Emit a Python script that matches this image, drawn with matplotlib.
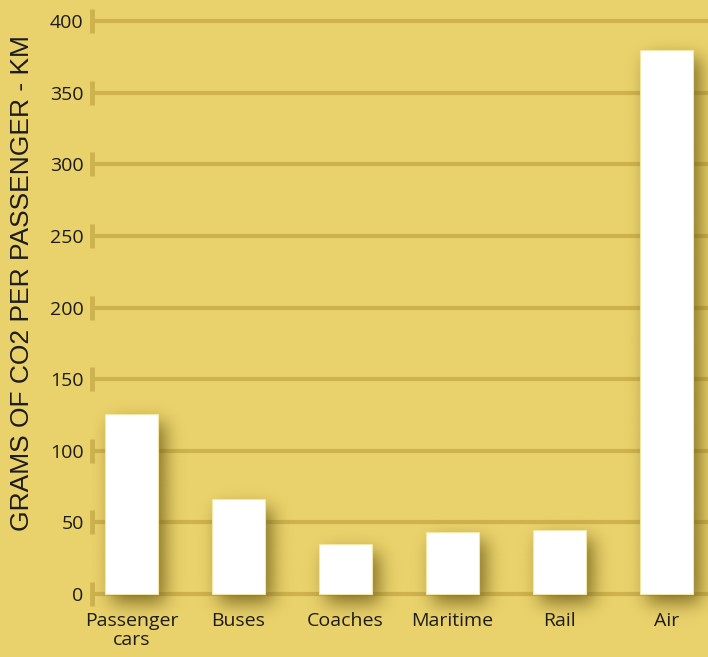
import numpy as np
import matplotlib
matplotlib.use("Agg")
import matplotlib.pyplot as plt

categories = ["Passenger\ncars", "Buses", "Coaches", "Maritime", "Rail", "Air"]
co2_grams = [126, 66, 35, 43.5, 44.5, 380]
y_ticks = [0, 50, 100, 150, 200, 250, 300, 350, 400]

bg = "#E9D16B"
grid_col = "#CDB24E"
text_col = "#1c1c1c"

W, H = 708, 657
fig = plt.figure(figsize=(W / 100, H / 100), dpi=100, facecolor=bg)

# axes placed in pixels: 0 at y=594, 400 at y=21, left edge at x=92
px_per_unit = (594 - 21) / 400
ylo, yhi = -8, 414
bot_px = 594 + (0 - ylo) * px_per_unit
top_px = 21 - (yhi - 400) * px_per_unit
ax = fig.add_axes([92 / W, (H - bot_px) / H, 1 - 92 / W, (bot_px - top_px) / H])
ax.set_facecolor(bg)

x = np.arange(len(categories))
spacing = 107
xlo = -(131.5 - 92) / spacing
xhi = xlo + (W - 92) / spacing

for s in ax.spines.values():
    s.set_visible(False)

# horizontal grid lines and short vertical tick marks
for t in y_ticks:
    ax.axhline(t, color=grid_col, lw=3, zorder=1)
ax.plot([xlo] * len(y_ticks), y_ticks, ls="none", marker="|", ms=17, mew=3.5,
        color=grid_col, clip_on=False, zorder=1)

ax.set_yticks(y_ticks)
ax.set_yticklabels([str(t) for t in y_ticks], fontsize=14, color=text_col,
                   family="Open Sans")
ax.tick_params(axis="y", length=0, pad=6)
ax.set_xticks(x)
ax.set_xticklabels(categories, fontsize=14, color=text_col, family="Open Sans",
                   linespacing=1.05)
ax.tick_params(axis="x", length=0, pad=5)

# blurred drop shadow: rasterise offset bar shapes on a 1px grid, then blur
bw = 0.5
sh_lo = -26
nx = W - 92
ny = int(round((yhi - sh_lo) * px_per_unit))
gx = xlo + (np.arange(nx) + 0.5) / spacing
gy = yhi - (np.arange(ny) + 0.5) / px_per_unit
mask = np.zeros((ny, nx))
off_x, off_y = 7 / spacing, 9 / px_per_unit
for xi, v in zip(x, co2_grams):
    cols = (gx >= xi - bw / 2 + off_x) & (gx <= xi + bw / 2 + off_x)
    rows = (gy <= v - off_y) & (gy >= -off_y)
    mask[np.ix_(rows, cols)] = 1.0

sigma = 9.0
k = np.arange(-30, 31)
kern = np.exp(-k ** 2 / (2 * sigma ** 2))
kern /= kern.sum()
blur = np.apply_along_axis(lambda r: np.convolve(r, kern, mode="same"), 1, mask)
blur = np.apply_along_axis(lambda c: np.convolve(c, kern, mode="same"), 0, blur)

shadow = np.zeros((ny, nx, 4))
shadow[..., :3] = np.array([0x6a, 0x5a, 0x14]) / 255
shadow[..., 3] = np.clip(blur * 0.8, 0, 1)
ax.imshow(shadow, extent=(xlo, xhi, sh_lo, yhi), aspect="auto", zorder=2,
          interpolation="bilinear", clip_on=False)
ax.set_xlim(xlo, xhi)
ax.set_ylim(ylo, yhi)

ax.bar(x, co2_grams, width=bw, color="white", edgecolor="#F3E6A8", lw=0.8,
       zorder=3)

fig.text(22 / W, 1 - 283 / H, "GRAMS OF CO2 PER PASSENGER - KM", rotation=90,
         ha="center", va="center", fontsize=19, color=text_col,
         family="Liberation Sans")

fig.savefig("out.png", dpi=100, facecolor=bg)
